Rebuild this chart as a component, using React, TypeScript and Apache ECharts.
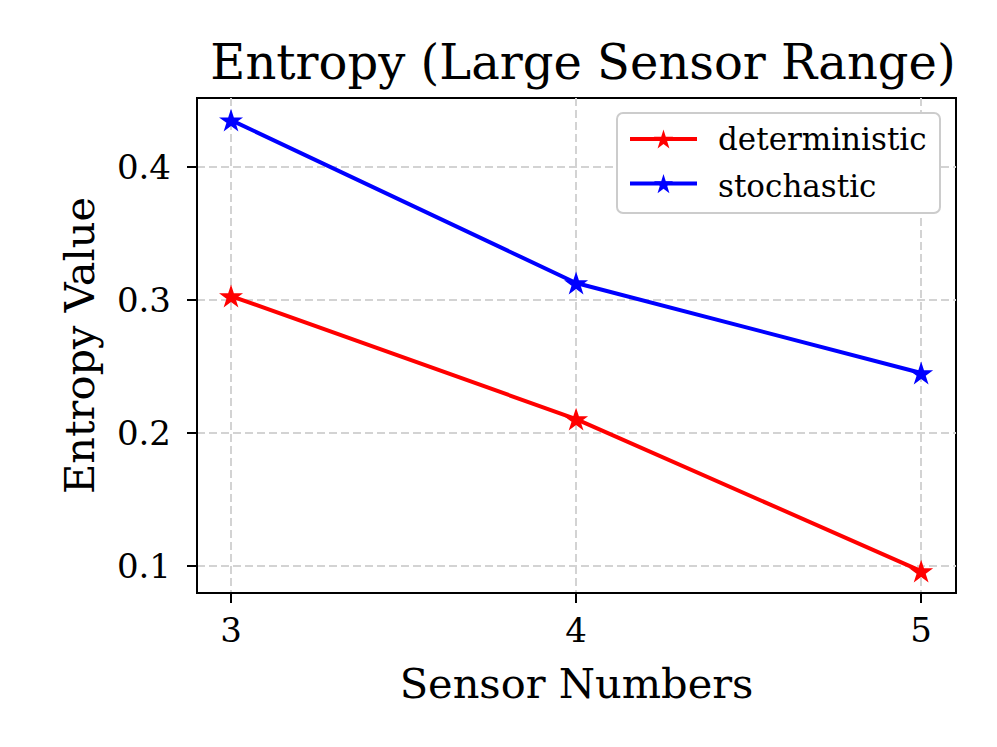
import React, { useEffect, useRef } from "react";
import * as echarts from "echarts";

const sensorNumbers = [3, 4, 5];
const deterministic = [0.303, 0.2105, 0.0962];
const stochastic = [0.4353, 0.3128, 0.2451];
const seriesNames = ["deterministic", "stochastic"];
const xTicks = [3, 4, 5];
const yTicks = [0.1, 0.2, 0.3, 0.4];

const STAR =
  "path://M100 0 L122.45 69.1 L195.1 69.1 L136.3 111.8 L158.8 180.9 L100 138.2 L41.2 180.9 L63.7 111.8 L4.9 69.1 L77.55 69.1 Z";

const FONT = "DejaVu Serif";

export default function App() {
  const ref = useRef<HTMLDivElement>(null);
  useEffect(() => {
    if (!ref.current) return;
    const chart = echarts.init(ref.current, undefined, { renderer: "svg" });
    const gridLine = { show: true, lineStyle: { color: "#d3d3d3", width: 2, type: [8, 4] } };
    chart.setOption({
      animation: false,
      backgroundColor: "#ffffff",
      textStyle: { fontFamily: FONT },
      title: {
        text: "Entropy (Large Sensor Range)",
        left: 578,
        top: 33,
        textAlign: "center",
        textStyle: { fontFamily: FONT, fontSize: 48, fontWeight: "normal", color: "#000" },
      },
      grid: { left: 197, top: 98, right: 41, bottom: 154, show: true, borderColor: "#000", borderWidth: 2, backgroundColor: "transparent" },
      graphic: [
        {
          type: "rect",
          z: 10,
          shape: { x: 617, y: 113, width: 323, height: 100, r: 6 },
          style: { fill: "#ffffff", stroke: "#cccccc", lineWidth: 2 },
        },
        ...seriesNames.map((name, i) => ({
          type: "text",
          z: 12,
          x: 718,
          y: 139 + i * 47,
          style: { text: name, fontFamily: FONT, fontSize: 31, fill: "#000000", textVerticalAlign: "middle", verticalAlign: "middle" },
        })),
      ],
      legend: {
        orient: "vertical",
        left: 628,
        top: 127,
        z: 11,
        padding: 0,
        itemWidth: 67,
        itemHeight: 24,
        itemGap: 23,
        lineStyle: { width: 4 },
        formatter: () => "",
        data: seriesNames,
      },
      xAxis: {
        type: "value",
        min: 2.9014,
        max: 5.101,
        name: "Sensor Numbers",
        nameLocation: "middle",
        nameGap: 69,
        nameTextStyle: { fontFamily: FONT, fontSize: 41.5, color: "#000" },
        axisLine: { show: true, lineStyle: { color: "#000", width: 2 } },
        axisTick: { show: true, customValues: xTicks, length: 10, lineStyle: { color: "#000", width: 2 } },
        axisLabel: { customValues: xTicks, margin: 20, fontFamily: FONT, fontSize: 34, color: "#000" },
        splitLine: gridLine,
      },
      yAxis: {
        type: "value",
        min: 0.0797,
        max: 0.4519,
        name: "Entropy Value",
        nameLocation: "middle",
        nameGap: 97,
        nameTextStyle: { fontFamily: FONT, fontSize: 41.5, color: "#000" },
        axisLine: { show: true, lineStyle: { color: "#000", width: 2 } },
        axisTick: { show: true, customValues: yTicks, length: 10, lineStyle: { color: "#000", width: 2 } },
        axisLabel: { customValues: yTicks, margin: 26, fontFamily: FONT, fontSize: 34, color: "#000", formatter: (v: number) => v.toFixed(1) },
        splitLine: gridLine,
      },
      series: [
        {
          name: seriesNames[0],
          type: "line",
          data: sensorNumbers.map((x, i) => [x, deterministic[i]]),
          color: "#ff0000",
          lineStyle: { color: "#ff0000", width: 4 },
          itemStyle: { color: "#ff0000" },
          symbol: STAR,
          symbolSize: 24,
          symbolKeepAspect: true,
        },
        {
          name: seriesNames[1],
          type: "line",
          data: sensorNumbers.map((x, i) => [x, stochastic[i]]),
          color: "#0000ff",
          lineStyle: { color: "#0000ff", width: 4 },
          itemStyle: { color: "#0000ff" },
          symbol: STAR,
          symbolSize: 24,
          symbolKeepAspect: true,
        },
      ],
    });
    return () => chart.dispose();
  }, []);
  return <div ref={ref} style={{ position: "fixed", left: 0, top: 0, width: 997, height: 747 }} />;
}
